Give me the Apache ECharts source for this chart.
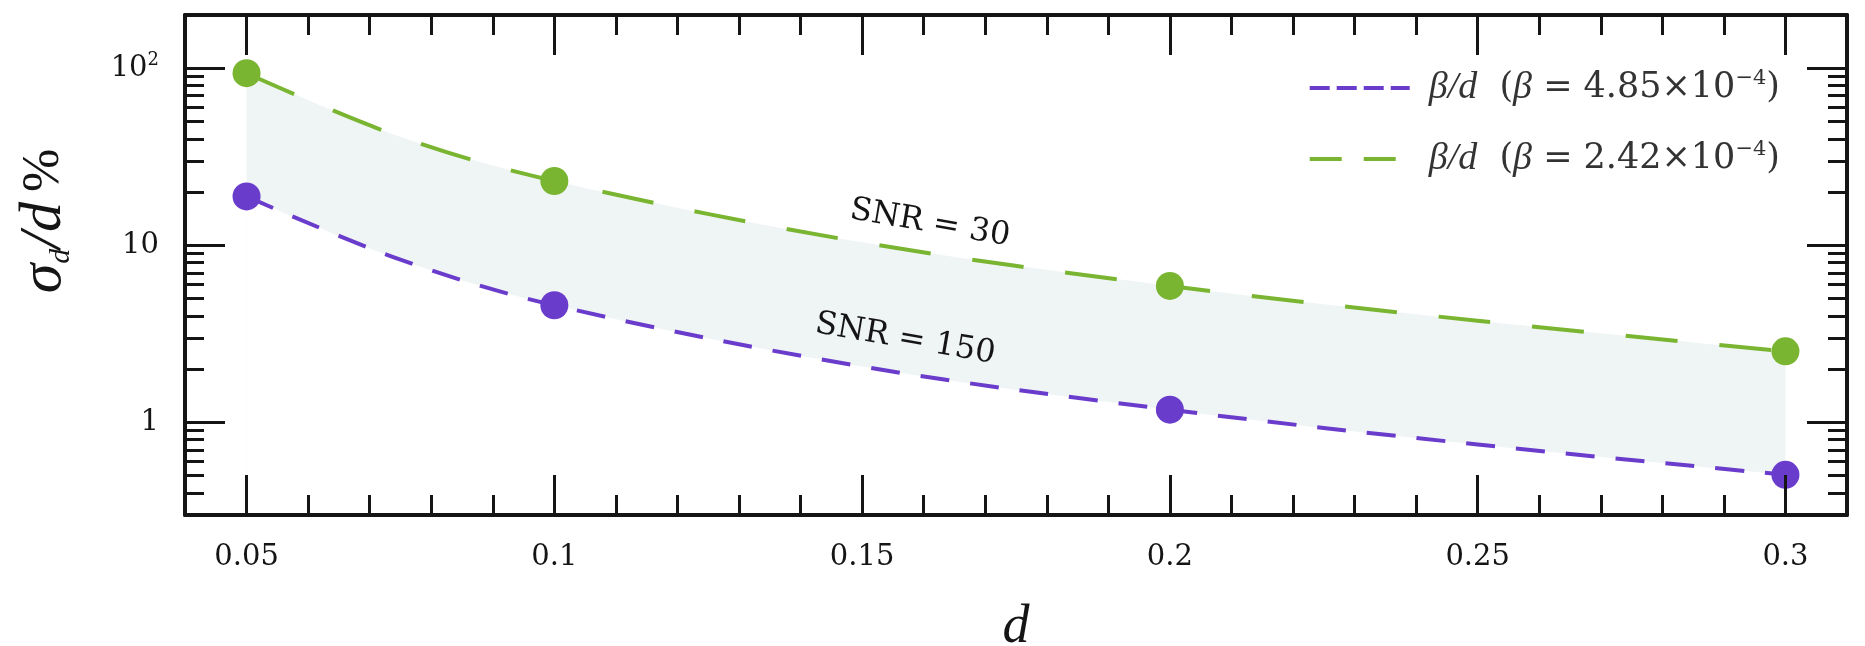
<!DOCTYPE html>
<html>
<head>
<meta charset="utf-8">
<script src="https://cdn.jsdelivr.net/npm/echarts@6/dist/echarts.min.js"></script>
<style>
  html, body { margin: 0; padding: 0; background: #fff; }
  #chart { width: 1865px; height: 646px; }
</style>
</head>
<body>
<div id="chart"></div>
<script>
// marker points (d, sigma_d/d in %)
const dPoints = [0.05, 0.1, 0.2, 0.3]
const snr30Points = [93.8, 23.1, 5.9, 2.52]
const snr150Points = [18.9, 4.59, 1.18, 0.506]

// dashed beta/d curves
const curveD = [0.05, 0.075, 0.1, 0.15, 0.2, 0.25, 0.3]
const curve30 = [93.8, 41, 23.1, 10.4, 5.9, 3.75, 2.52]
const curve150 = [18.9, 8.3, 4.59, 2.07, 1.18, 0.75, 0.506]

// ticks
const xMajorTicks = [0.05, 0.1, 0.15, 0.2, 0.25, 0.3]
const xMinorTicks = [0.04, 0.06, 0.07, 0.08, 0.09, 0.11, 0.12, 0.13, 0.14, 0.16, 0.17, 0.18, 0.19,
  0.21, 0.22, 0.23, 0.24, 0.26, 0.27, 0.28, 0.29, 0.31]
const yMajorTicks = [1, 10, 100]
const yMinorTicks = [0.3, 0.4, 0.5, 0.6, 0.7, 0.8, 0.9, 2, 3, 4, 5, 6, 7, 8, 9,
  20, 30, 40, 50, 60, 70, 80, 90, 200]

const seriesNames = ['β/d (β = 4.85×10^-4)', 'β/d (β = 2.42×10^-4)']
const legendValues = ['4.85', '2.42']
const snrLabels = [
  { text: 'SNR = 30', d: 0.161, v: 13.3 },
  { text: 'SNR = 150', d: 0.157, v: 2.95 },
]

const GREEN = '#7ab531'
const PURPLE = '#6a3ccc'
const BAND = '#eff4f5'
const INK = '#151515'
const TICK_FONT = 'DejaVu Serif'
const MATH_FONT = 'Liberation Serif'

const chart = echarts.init(document.getElementById('chart'))

function zip(xs, ys) {
  return xs.map((x, i) => [x, ys[i]])
}

function xAxisOf(position, ticks, len, main) {
  return {
    type: 'value',
    position,
    min: 0.04,
    max: 0.31,
    z: 10,
    axisLine: { show: main, onZero: false, lineStyle: { color: INK, width: 4 } },
    axisTick: { show: true, inside: true, length: len, customValues: ticks, lineStyle: { color: INK, width: 3 } },
    axisLabel: main && position === 'bottom'
      ? {
          show: true, customValues: xMajorTicks, margin: 28,
          fontFamily: TICK_FONT, fontSize: 29, color: INK,
          formatter: v => String(+(+v).toFixed(2)),
        }
      : { show: false },
    splitLine: { show: false },
    name: main && position === 'bottom' ? 'd' : '',
    nameLocation: 'middle',
    nameGap: 86,
    nameTextStyle: { fontFamily: MATH_FONT, fontStyle: 'italic', fontSize: 54, color: INK },
  }
}

function yAxisOf(position, ticks, len, main) {
  return {
    type: 'log',
    logBase: 10,
    position,
    min: 0.3,
    max: 200,
    z: 10,
    axisLine: { show: main, onZero: false, lineStyle: { color: INK, width: 4 } },
    axisTick: { show: true, inside: true, length: len, customValues: ticks, lineStyle: { color: INK, width: 3 } },
    axisLabel: main && position === 'left'
      ? {
          show: true, customValues: yMajorTicks, margin: 26,
          fontFamily: TICK_FONT, fontSize: 29, color: INK,
          formatter: v => (+v === 100 ? '{b|10}{sup|2}' : '{b|' + (+v) + '}'),
          rich: {
            b: { fontFamily: TICK_FONT, fontSize: 29, color: INK, lineHeight: 34 },
            sup: { fontFamily: TICK_FONT, fontSize: 18, color: INK, lineHeight: 34, verticalAlign: 'top' },
          },
        }
      : { show: false },
    splitLine: { show: false },
  }
}

const legendRich = {
  i: { fontFamily: MATH_FONT, fontStyle: 'italic', fontSize: 38, color: '#333', lineHeight: 40 },
  n: { fontFamily: TICK_FONT, fontSize: 35, color: '#333', lineHeight: 40 },
  sup: { fontFamily: TICK_FONT, fontSize: 21, color: '#333', lineHeight: 40, verticalAlign: 'top' },
}

chart.setOption({
  animation: false,
  backgroundColor: '#fff',
  grid: { left: 185, right: 18, top: 15, bottom: 131, containLabel: false, outerBoundsMode: 'none' },
  legend: {
    orient: 'vertical',
    right: 80,
    top: 63,
    itemWidth: 100,
    itemHeight: 36,
    itemGap: 32,
    data: [
      { name: seriesNames[0], lineStyle: { type: [20, 7], width: 4 }, itemStyle: { opacity: 0 } },
      { name: seriesNames[1], lineStyle: { type: [32, 22], width: 4 }, itemStyle: { opacity: 0 } },
    ],
    formatter: name => {
      const val = legendValues[seriesNames.indexOf(name)]
      return `{i|β/d}{n|  (}{i|β}{n| = ${val}×10}{sup|−4}{n|)}`
    },
    textStyle: { fontSize: 35, fontFamily: TICK_FONT, rich: legendRich, padding: [0, 0, 0, 14] },
  },
  xAxis: [
    xAxisOf('bottom', xMajorTicks, 40, true),
    xAxisOf('bottom', xMinorTicks, 20, false),
    xAxisOf('top', xMajorTicks, 40, true),
    xAxisOf('top', xMinorTicks, 20, false),
  ],
  yAxis: [
    yAxisOf('left', yMajorTicks, 40, true),
    yAxisOf('left', yMinorTicks, 19, false),
    yAxisOf('right', yMajorTicks, 40, true),
    yAxisOf('right', yMinorTicks, 19, false),
  ],
  series: [
    {
      name: seriesNames[1],
      type: 'line',
      data: zip(curveD, curve30),
      smooth: 0.35,
      symbol: 'none',
      lineStyle: { color: GREEN, width: 4, type: [52, 42] },
      itemStyle: { color: GREEN },
      areaStyle: { color: BAND, opacity: 1, origin: 'start' },
      z: 2,
    },
    {
      name: seriesNames[0],
      type: 'line',
      data: zip(curveD, curve150),
      smooth: 0.35,
      symbol: 'none',
      lineStyle: { color: PURPLE, width: 4, type: [29, 21] },
      itemStyle: { color: PURPLE },
      areaStyle: { color: '#ffffff', opacity: 1, origin: 'start' },
      z: 3,
    },
    {
      name: 'snr30',
      type: 'scatter',
      data: zip(dPoints, snr30Points),
      symbolSize: 28,
      itemStyle: { color: GREEN, opacity: 1 },
      z: 5,
    },
    {
      name: 'snr150',
      type: 'scatter',
      data: zip(dPoints, snr150Points),
      symbolSize: 28,
      itemStyle: { color: PURPLE, opacity: 1 },
      z: 5,
    },
  ],
})

// y-axis title and SNR annotations
const graphics = [
  {
    type: 'text',
    x: 44,
    y: 221,
    rotation: Math.PI / 2,
    style: {
      text: '{s|σ}{sub|d}{s|/d}   {p|%}',
      align: 'center',
      verticalAlign: 'middle',
      rich: {
        s: { fontFamily: MATH_FONT, fontStyle: 'italic', fontSize: 60, fill: INK, lineHeight: 64 },
        sub: { fontFamily: MATH_FONT, fontStyle: 'italic', fontSize: 30, fill: INK, lineHeight: 64, verticalAlign: 'bottom' },
        p: { fontFamily: MATH_FONT, fontSize: 52, fill: INK, lineHeight: 64 },
      },
    },
  },
]
snrLabels.forEach(l => {
  const [px, py] = chart.convertToPixel({ xAxisIndex: 0, yAxisIndex: 0 }, [l.d, l.v])
  graphics.push({
    type: 'text',
    x: px,
    y: py,
    rotation: -0.17,
    z: 20,
    style: {
      text: l.text,
      align: 'center',
      verticalAlign: 'middle',
      fontFamily: TICK_FONT,
      fontSize: 32,
      fill: INK,
    },
  })
})
chart.setOption({ graphic: graphics })
</script>
</body>
</html>
